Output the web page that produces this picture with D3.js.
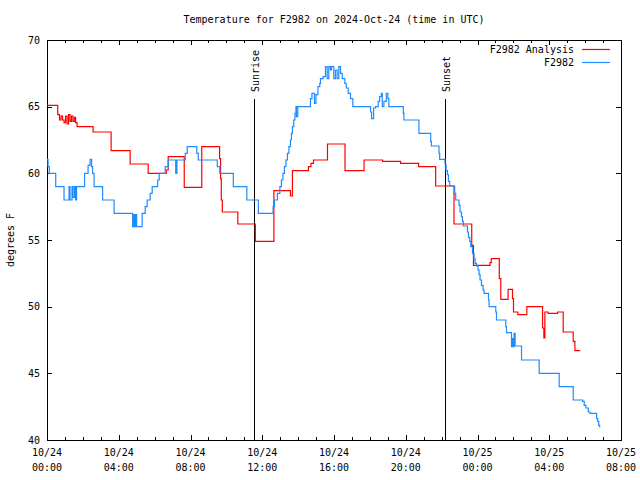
<!DOCTYPE html>
<html>
<head>
<meta charset="utf-8">
<script src="https://cdn.jsdelivr.net/npm/d3@7"></script>
<style>
html,body{margin:0;padding:0;background:#fff;}
svg{display:block;}
text{font-family:"DejaVu Sans Mono","Liberation Mono",monospace;font-size:10px;fill:#000;}
</style>
</head>
<body>
<svg id="chart" width="640" height="480"></svg>
<script>
// ---- data (hours since 10/24 00:00 UTC, temperature °F) ----
const analysisHours = [0,0.598,0.698,0.782,0.866,0.949,1.033,1.117,1.201,1.284,1.368,1.452,1.536,1.592,1.675,2.569,3.574,4.635,5.640,6.646,6.757,7.651,8.628,9.622,9.678,9.717,9.773,10.639,11.616,12.649,13.571,13.682,14.576,14.716,14.855,15.637,16.614,17.675,18.709,19.714,20.719,21.668,22.690,23.679,23.774,24.701,24.768,25.214,25.298,25.706,25.951,26.007,26.248,26.750,27.627,27.700,27.756,27.940,28.465,28.778,29.336,29.431,29.727];
const analysisTemps = [65.1,64.4,64.0,64.3,64.0,63.8,64.3,63.7,64.4,63.9,64.3,63.9,64.2,63.8,63.5,63.1,61.7,60.7,60.0,60.25,61.25,58.95,62.0,61.1,59.6,58.0,57.1,56.2,54.9,58.7,58.3,60.2,60.5,60.75,61.0,62.2,60.2,61.0,60.9,60.75,60.5,59.05,56.2,54.6,53.1,53.3,53.6,52.1,50.55,51.3,50.6,49.6,49.4,50.0,48.4,47.65,49.6,49.5,49.6,48.1,47.4,46.7,46.7];

const stationHours = [0,0.056,0.128,0.486,0.949,1.229,1.284,1.396,1.452,1.536,1.592,1.647,2.094,2.290,2.401,2.485,2.541,2.625,3.099,3.742,4.775,4.831,4.887,4.942,4.998,5.305,5.473,5.585,5.752,5.864,6.171,6.255,6.590,6.757,7.176,7.243,7.707,7.818,8.349,8.433,9.494,9.633,10.387,11.141,11.784,12.604,12.677,12.845,12.984,13.068,13.152,13.235,13.319,13.403,13.487,13.571,13.627,13.682,13.755,13.822,13.878,13.906,13.978,14.688,14.771,14.911,14.995,15.106,15.207,15.246,15.397,15.525,15.620,15.709,15.804,15.860,15.989,16.083,16.178,16.268,16.363,16.458,16.603,16.681,16.793,16.921,17.050,18.038,18.094,18.206,18.317,18.468,18.541,18.636,18.692,18.781,18.915,19.004,19.060,19.864,19.898,20.735,21.389,21.428,21.852,21.892,22.188,22.244,22.322,22.378,22.450,22.729,22.785,22.970,23.025,23.104,23.160,23.216,23.439,23.495,23.567,23.623,23.718,23.807,23.863,23.941,24.031,24.087,24.143,24.221,24.310,24.366,24.612,24.645,25.019,25.058,25.578,25.617,25.896,25.952,26.007,26.041,26.097,26.454,27.437,28.554,29.336,29.861,29.951,30.045,30.174,30.269,30.643,30.699,30.755,30.811];
const stationTemps = [61.05,60.5,60.0,59.0,58.0,59.0,58.0,59.0,58.2,59.0,58.0,59.0,60.0,60.6,61.05,60.5,60.0,59.0,58.0,57.0,56.0,56.9,56.0,56.9,56.0,57.0,57.5,58.0,58.5,59.0,59.5,60.0,60.5,61.0,60.0,61.0,61.5,62.0,61.5,61.0,60.5,60.0,59.0,58.0,57.0,57.5,58.0,58.5,59.0,59.5,60.0,60.5,61.0,61.5,62.0,62.5,63.0,63.5,64.0,64.5,65.0,64.25,65.0,65.6,66.0,65.25,65.9,66.5,66.75,67.1,67.25,68.0,67.1,68.0,67.75,68.0,67.1,67.75,67.1,68.0,67.5,67.1,66.75,66.4,66.0,65.6,65.0,64.6,64.1,64.9,65.0,65.4,65.75,66.0,65.0,65.4,66.0,65.6,65.0,64.5,64.0,63.0,62.4,62.05,61.5,61.05,60.7,60.2,59.9,59.4,59.05,58.5,58.0,57.6,57.1,56.75,56.4,56.05,55.6,55.2,54.9,54.5,54.0,53.6,53.25,53.05,52.75,52.4,52.0,51.6,51.25,51.0,50.5,50.0,49.6,49.0,48.5,48.05,47.0,47.6,47.0,48.0,47.05,46.0,45.0,44.0,43.0,42.9,42.6,42.4,42.1,42.0,41.6,41.4,41.1,40.95];

const seriesNames = ["F2982 Analysis", "F2982"];
const seriesColors = ["#ff0000", "#1e8cff"];
const yTicks = [40,45,50,55,60,65,70];
const xMajorTicks = [0,4,8,12,16,20,24,28,32];
const xMinorTicks = d3.range(0,33,1);
const xTickDates = ["10/24","10/24","10/24","10/24","10/24","10/24","10/25","10/25","10/25"];
const xTickTimes = ["00:00","04:00","08:00","12:00","16:00","20:00","00:00","04:00","08:00"];
const sunEvents = [{label:"Sunrise", hour:11.56},{label:"Sunset", hour:22.19}];
const title = "Temperature for F2982 on 2024-Oct-24 (time in UTC)";
const yLabel = "degrees F";

// ---- layout ----
const L = 47, R = 621, T = 40, B = 440;
const svg = d3.select("#chart");
const x = d3.scaleLinear().domain([0,32]).range([L,R]);
const y = d3.scaleLinear().domain([40,70]).range([B,T]);

// title
svg.append("text").attr("x",(L+R)/2).attr("y",23).attr("text-anchor","middle").text(title);

// y label
svg.append("text").attr("transform",`translate(14,${(T+B)/2}) rotate(-90)`)
  .attr("text-anchor","middle").text(yLabel);

// axes
function styleAxis(g){
  g.selectAll("path,line").attr("stroke","#000").attr("shape-rendering","crispEdges");
  g.selectAll("text").attr("font-family",null).attr("font-size",null);
}
svg.append("g").attr("transform",`translate(0,${B})`)
  .call(d3.axisBottom(x).tickValues(xMinorTicks).tickSize(-3).tickSizeOuter(0).tickFormat(""))
  .call(styleAxis);
svg.append("g").attr("transform",`translate(0,${B})`)
  .call(d3.axisBottom(x).tickValues(xMajorTicks).tickSize(-5).tickSizeOuter(0).tickFormat(""))
  .call(styleAxis);
svg.append("g").attr("transform",`translate(0,${T})`)
  .call(d3.axisTop(x).tickValues(xMinorTicks).tickSize(-3).tickSizeOuter(0).tickFormat(""))
  .call(styleAxis);
svg.append("g").attr("transform",`translate(0,${T})`)
  .call(d3.axisTop(x).tickValues(xMajorTicks).tickSize(-5).tickSizeOuter(0).tickFormat(""))
  .call(styleAxis);
svg.append("g").attr("transform",`translate(${L},0)`)
  .call(d3.axisLeft(y).tickValues(yTicks).tickSize(-5).tickSizeOuter(0).tickPadding(7).tickFormat(d3.format("d")))
  .call(styleAxis);
svg.append("g").attr("transform",`translate(${R},0)`)
  .call(d3.axisRight(y).tickValues(yTicks).tickSize(-5).tickSizeOuter(0).tickFormat(""))
  .call(styleAxis);

// x tick labels (two lines)
const xl = svg.append("g");
xMajorTicks.forEach((h,i)=>{
  const t = xl.append("text").attr("x",x(h)).attr("text-anchor","middle");
  t.append("tspan").attr("x",x(h)).attr("y",456).text(xTickDates[i]);
  t.append("tspan").attr("x",x(h)).attr("y",471).text(xTickTimes[i]);
});

// sunrise / sunset
sunEvents.forEach(s=>{
  const xp = Math.round(x(s.hour))+0.5;
  svg.append("line").attr("x1",xp).attr("x2",xp).attr("y1",99).attr("y2",B)
    .attr("stroke","#000").attr("stroke-width",1).attr("shape-rendering","crispEdges");
  svg.append("text").attr("transform",`translate(${xp+4},92) rotate(-90)`)
    .attr("text-anchor","start").text(s.label);
});

// series
const line = d3.line().x(d=>x(d[0])).y(d=>y(d[1])).curve(d3.curveStepAfter);
const red = analysisHours.map((h,i)=>[h,analysisTemps[i]]);
const blue = stationHours.map((h,i)=>[h,stationTemps[i]]);
svg.append("path").datum(red).attr("d",line).attr("fill","none")
  .attr("stroke",seriesColors[0]).attr("stroke-width",1.2);
svg.append("path").datum(blue).attr("d",line).attr("fill","none")
  .attr("stroke",seriesColors[1]).attr("stroke-width",1.2);

// legend
seriesNames.forEach((n,i)=>{
  const yy = 49 + i*13;
  svg.append("text").attr("x",574).attr("y",yy+4).attr("text-anchor","end").text(n);
  svg.append("line").attr("x1",582).attr("x2",610).attr("y1",yy+0.5).attr("y2",yy+0.5)
    .attr("stroke",seriesColors[i]).attr("stroke-width",1.2);
});
</script>
</body>
</html>
